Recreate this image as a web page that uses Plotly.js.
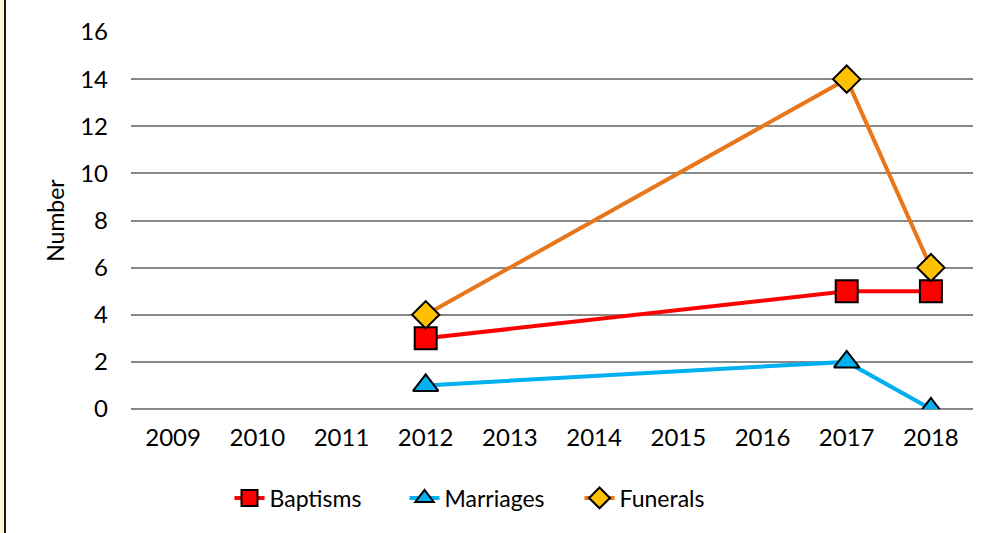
<!DOCTYPE html>
<html>
<head>
<meta charset="utf-8">
<script src="https://cdn.plot.ly/plotly-3.0.1.min.js"></script>
<style>
  html, body { margin: 0; padding: 0; background: #ffffff; }
  #wrap { position: relative; width: 993px; height: 533px; overflow: hidden; }
  #chart { position: absolute; left: 0; top: 0; width: 993px; height: 533px; }
  #strip { position: absolute; left: 0; top: 0; width: 4px; height: 533px; background: #FFF8D6; z-index: 2; }
  #edge { position: absolute; left: 4px; top: 0; width: 2px; height: 533px; background: #1a1a1a; z-index: 2; }
</style>
</head>
<body>
<div id="wrap">
  <div id="chart"></div>
  <div id="strip"></div>
  <div id="edge"></div>
</div>
<script>
const years = ["2009", "2010", "2011", "2012", "2013", "2014", "2015", "2016", "2017", "2018"];
const baptisms = [null, null, null, 3, null, null, null, null, 5, 5];
const marriages = [null, null, null, 1, null, null, null, null, 2, 0];
const funerals = [null, null, null, 4, null, null, null, null, 14, 6];
const yTicks = [0, 2, 4, 6, 8, 10, 12, 14, 16];

const FONT = "Lato, 'Open Sans', sans-serif";

const traces = [
  {
    name: "Baptisms", x: years, y: baptisms, type: "scatter", mode: "lines+markers",
    connectgaps: true,
    line: { color: "#FF0000", width: 4 },
    marker: { symbol: "square", size: 22, color: "#FF0000", line: { color: "#000000", width: 2 } }
  },
  {
    name: "Marriages", x: years, y: marriages, type: "scatter", mode: "lines+markers",
    connectgaps: true,
    line: { color: "#00B0F0", width: 4 },
    marker: { symbol: "triangle-up", size: 22, color: "#00B0F0", line: { color: "#000000", width: 2 } }
  },
  {
    name: "Funerals", x: years, y: funerals, type: "scatter", mode: "lines+markers",
    connectgaps: true,
    line: { color: "#E8761B", width: 4 },
    marker: { symbol: "diamond", size: 21, color: "#FFC000", line: { color: "#000000", width: 2 } }
  }
];

const layout = {
  width: 993, height: 533,
  margin: { l: 131, r: 20, t: 32, b: 124 },
  paper_bgcolor: "#ffffff", plot_bgcolor: "#ffffff",
  font: { family: FONT, size: 24, color: "#000000" },
  showlegend: true,
  legend: {
    orientation: "h", x: 0.117, xanchor: "left", y: -0.236, yanchor: "middle",
    font: { family: FONT, size: 23, color: "#000000" },
    entrywidth: 130, entrywidthmode: "pixels",
    tracegroupgap: 0, traceorder: "normal"
  },
  xaxis: {
    type: "category", categoryorder: "array", categoryarray: years,
    range: [-0.5, 9.5], showgrid: false, zeroline: false, showline: false,
    ticks: "", ticklabelstandoff: 12, tickfont: { family: FONT, size: 24 }
  },
  yaxis: {
    range: [0, 16], tickvals: yTicks, ticktext: yTicks.map(String),
    showgrid: true, gridcolor: "#888888", gridwidth: 2,
    zeroline: true, zerolinecolor: "#888888", zerolinewidth: 2,
    showline: false, ticks: "", ticklabelstandoff: 22,
    tickfont: { family: FONT, size: 24 },
    title: { text: "Number", font: { family: FONT, size: 23 }, standoff: 9 }
  }
};

Plotly.newPlot("chart", traces, layout, { displayModeBar: false, staticPlot: true });
</script>
</body>
</html>
